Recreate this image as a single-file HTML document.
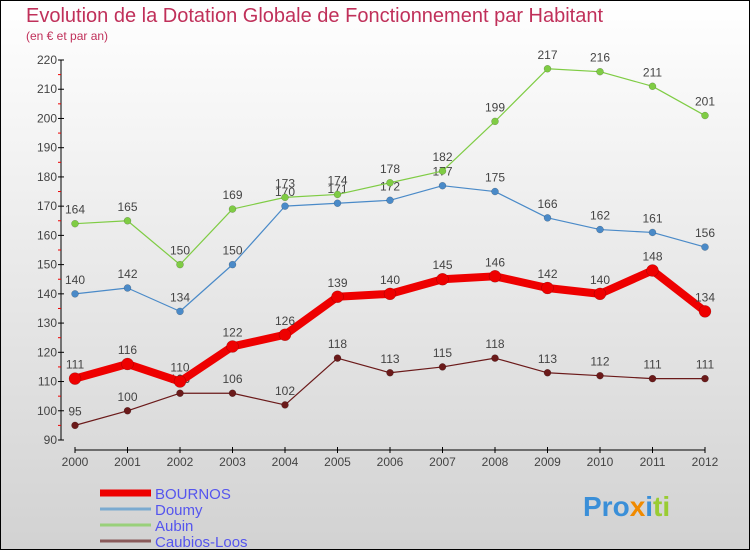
<!DOCTYPE html>
<html><head><meta charset="utf-8"><style>
body{margin:0}
svg{display:block;font-family:"Liberation Sans",sans-serif}
</style></head><body>
<svg id="c" width="750" height="550" viewBox="0 0 750 550">
<defs><linearGradient id="bg" x1="0" y1="0" x2="0" y2="1"><stop offset="0" stop-color="#ffffff"/><stop offset="1" stop-color="#d2d2d2"/></linearGradient></defs>
<rect x="0.5" y="0.5" width="749" height="549" fill="url(#bg)" stroke="#000"/>
<text x="26" y="22" font-size="20" fill="#c0305a">Evolution de la Dotation Globale de Fonctionnement par Habitant</text>
<text x="26" y="40" font-size="12" fill="#c0305a">(en € et par an)</text>
<g id="axes"></g><g id="series"></g><g id="legend"></g>
<text x="583" y="516" font-size="28" font-weight="bold" fill="#3a8fd8">Pro<tspan fill="#f08a00">x</tspan><tspan fill="#3a8fd8">i</tspan><tspan fill="#9c3">ti</tspan></text>
</svg>
<script>
const years=[2000,2001,2002,2003,2004,2005,2006,2007,2008,2009,2010,2011,2012];
const bournos=[111,116,110,122,126,139,140,145,146,142,140,148,134];
const doumy=[140,142,134,150,170,171,172,177,175,166,162,161,156];
const aubin=[164,165,150,169,173,174,178,182,199,217,216,211,201];
const caubios=[95,100,106,106,102,118,113,115,118,113,112,111,111];
const yTicks=[90,100,110,120,130,140,150,160,170,180,190,200,210,220];
const NS="http://www.w3.org/2000/svg";
const X=i=>75+i*52.5;
const Y=v=>440-(v-90)*380/130;
function mk(p,tag,at){const e=document.createElementNS(NS,tag);for(const k in at)e.setAttribute(k,at[k]);p.appendChild(e);return e;}
const ax=document.getElementById('axes');
let l=mk(ax,'line',{x1:61,y1:60,x2:61,y2:440,stroke:'#000','stroke-width':1});


l=mk(ax,'line',{x1:75,y1:450,x2:X(12),y2:450,stroke:'#000','stroke-width':1});


yTicks.forEach((v,i)=>{
 mk(ax,'line',{x1:58,y1:Y(v),x2:64,y2:Y(v),stroke:'#000'});
 if(i<yTicks.length-1)mk(ax,'line',{x1:58,y1:Y(v+5),x2:61,y2:Y(v+5),stroke:'#e00'});
 const t=mk(ax,'text',{x:57,y:Y(v)+4,'font-size':12,fill:'#444','text-anchor':'end'});t.textContent=v;
 
 
});
years.forEach((y,i)=>{
 mk(ax,'line',{x1:X(i),y1:447,x2:X(i),y2:453,stroke:'#000'});
 const t=mk(ax,'text',{x:X(i),y:466,'font-size':12,fill:'#444','text-anchor':'middle'});t.textContent=y;
 
 
});
const sg=document.getElementById('series');
function series(data,color,w,r,name,labelUp){
 const g=mk(sg,'g',{});
 
 
 mk(g,'polyline',{points:data.map((v,i)=>X(i)+','+Y(v)).join(' '),fill:'none',stroke:color,'stroke-width':w,'stroke-linejoin':'round'});
 data.forEach((v,i)=>{
  const c=mk(g,'circle',{cx:X(i),cy:Y(v),r:r,fill:color,stroke:'rgba(0,0,0,0.3)','stroke-width':0.5});
  
  
  const t=mk(g,'text',{x:X(i),y:Y(v)-10,'font-size':12,fill:'#444','text-anchor':'middle'});t.textContent=v;
  
  
 });
}
series(caubios,'#6b1a1a',1.2,3.5,'caubios-loos');
series(doumy,'#4a8ac8',1.2,3.5,'doumy');
series(aubin,'#7fcc44',1.2,3.5,'aubin');
series(bournos,'#ee0000',8,6,'bournos');
const lg=document.getElementById('legend');
[['BOURNOS','#ee0000',7],['Doumy','#7aaad0',3],['Aubin','#99d07a',3],['Caubios-Loos','#8a5a5a',3]].forEach((d,i)=>{
 const y=493+i*16;
 const g=mk(lg,'g',{});
 
 
 mk(g,'line',{x1:100,y1:y,x2:151,y2:y,stroke:d[1],'stroke-width':d[2]});
 const t=mk(g,'text',{x:155,y:y+6,'font-size':15,fill:'#5555ee'});t.textContent=d[0];
});
</script>
</body></html>
